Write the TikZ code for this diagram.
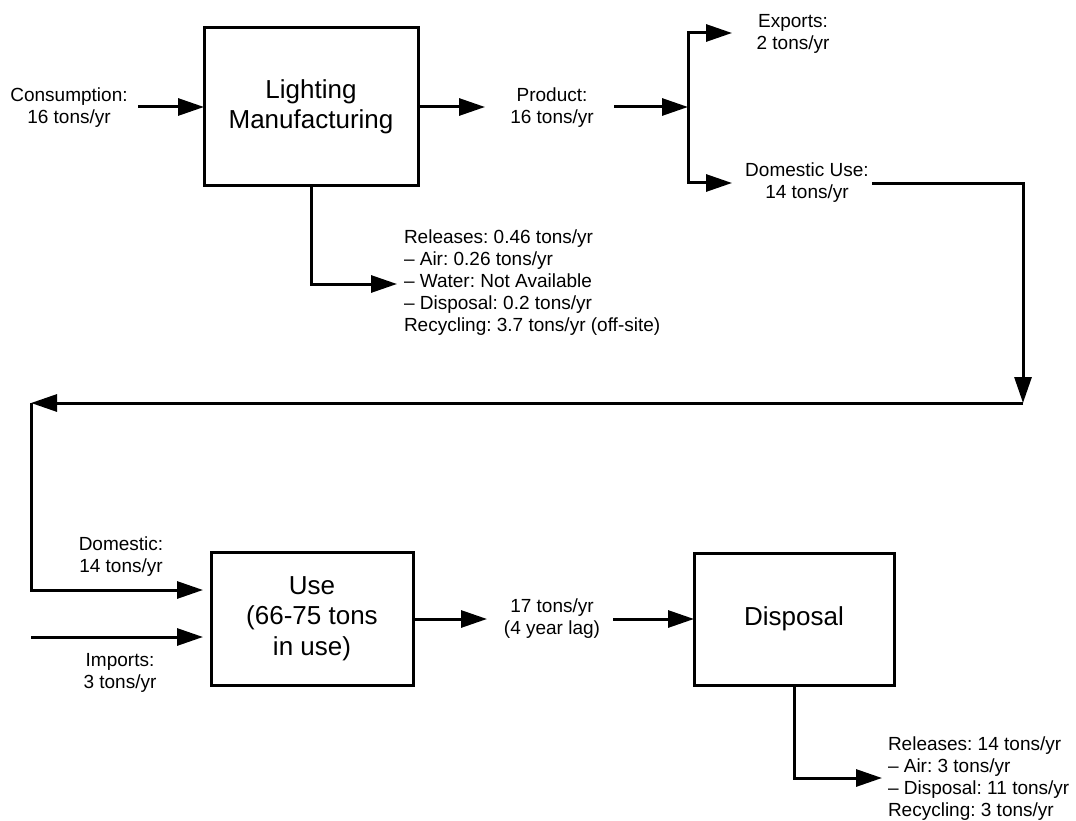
\documentclass[tikz,border=0pt]{standalone}
\usepackage{fontspec}
\setmainfont{Liberation Sans}
\usetikzlibrary{arrows.meta}
\frenchspacing
\newcommand\bigtxt{\fontsize{26}{30.5}\selectfont}
\newcommand\smalltxt{\fontsize{19}{22}\selectfont}
\tikzset{
  box/.style={draw, line width=3pt, inner sep=0pt, outer sep=0pt, align=center, font=\bigtxt},
  lbl/.style={inner sep=0pt, outer sep=0pt, align=center, font=\smalltxt},
  lblleft/.style={inner sep=0pt, outer sep=0pt, align=left, font=\smalltxt, anchor=west},
  flow/.style={line width=3pt, -{Triangle[length=26pt,width=17pt]}},
  wire/.style={line width=3pt}
}
\begin{document}
\begin{tikzpicture}[x=1pt,y=-1pt]
\useasboundingbox (0,0) rectangle (1076,821);
% boxes
\node[box, minimum width=214pt, minimum height=158pt] (lm) at (311,107) {Lighting\\Manufacturing};
\node[box, minimum width=202pt, minimum height=133pt] (use) at (312,618.5) {Use\\(66-75 tons\\in use)};
\node[box, minimum width=200pt, minimum height=132pt] (disp) at (794,619) {Disposal};
% labels
\node[lbl] (cons) at (69,108) {Consumption:\\16 tons/yr};
\node[lbl] (prod) at (552,108) {Product:\\16 tons/yr};
\node[lbl] (exp) at (793,34) {Exports:\\2 tons/yr};
\node[lbl] (dom) at (807,182.5) {Domestic Use:\\14 tons/yr};
\node[lblleft] (rel1) at (404,283) {Releases: 0.46 tons/yr\\\textendash{} Air: 0.26 tons/yr\\\textendash{} Water: Not Available\\\textendash{} Disposal: 0.2 tons/yr\\Recycling: 3.7 tons/yr (off-site)};
\node[lbl] (domin) at (121,557) {Domestic:\\14 tons/yr};
\node[lbl] (imp) at (120,672.5) {Imports:\\3 tons/yr};
\node[lbl] (lag) at (552,618.5) {17 tons/yr\\(4 year lag)};
\node[lblleft] (rel2) at (888,778.5) {Releases: 14 tons/yr\\\textendash{} Air: 3 tons/yr\\\textendash{} Disposal: 11 tons/yr\\Recycling: 3 tons/yr};
% coordinates
\coordinate (consS) at (138,107);
\coordinate (prodE) at (485,107);
\coordinate (prodS) at (614,107);
\coordinate (split) at (688,107);
\coordinate (expE) at (732,33);
\coordinate (domE) at (732,183);
\coordinate (domS) at (872,184);
\coordinate (rcorner) at (1023,403);
\coordinate (lcorner) at (31,403);
\coordinate (domInE) at (203,590);
\coordinate (impS) at (31,637);
\coordinate (impE) at (203,637);
\coordinate (lagE) at (487,619);
\coordinate (lagS) at (613,619);
\coordinate (rel1E) at (397,284);
\coordinate (rel2E) at (882,778);
% connectors
\draw[flow] (consS) -- (lm.west);
\draw[flow] (lm.east) -- (prodE);
\draw[flow] (prodS) -- (split);
\draw[flow] (split) |- (expE);
\draw[flow] (split) |- (domE);
\draw[flow] (lm.south) |- (rel1E);
\draw[flow] (domS) -| (rcorner);
\draw[flow] (rcorner) -- (lcorner);
\draw[flow] (lcorner) |- (domInE);
\draw[flow] (impS) -- (impE);
\draw[flow] (use.east |- lagE) -- (lagE);
\draw[flow] (lagS) -- (disp.west);
\draw[flow] (disp.south) |- (rel2E);
\end{tikzpicture}
\end{document}
